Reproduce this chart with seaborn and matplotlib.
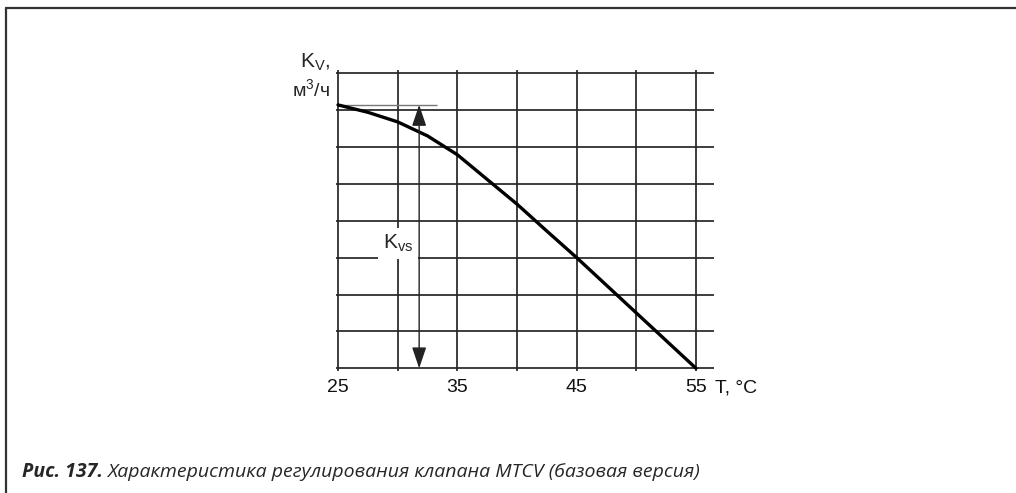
import matplotlib
matplotlib.use("Agg")
import matplotlib.pyplot as plt
import seaborn as sns
import pandas as pd
from matplotlib.lines import Line2D

# ---- data ----
temperature = [25, 27.5, 30, 32.5, 35, 37.5, 40, 42.5, 45, 47.5, 50, 52.5, 55]
kv = [7.14, 6.94, 6.68, 6.30, 5.79, 5.12, 4.45, 3.72, 3.0, 2.25, 1.5, 0.75, 0.0]
x_ticks = [25, 35, 45, 55]
x_grid = [25, 30, 35, 40, 45, 50, 55]
y_grid = [0, 1, 2, 3, 4, 5, 6, 7, 8]
kvs_value = kv[0]
kvs_arrow_t = 31.8
kvs_line_end = 33.3
kvs_label_pos = (28.75, 3.38)
x_label = "T, °C"
y_label_top = r"K$_{\mathregular{V}}$,"
y_label_bottom = r"м$^{\mathregular{3}}$/ч"
kvs_label = r"K$_{\mathregular{vs}}$"
caption_bold = "Рис. 137."
caption_text = "Характеристика регулирования клапана MTCV (базовая версия)"

sns.set_theme(style="white")
plt.rcParams["font.family"] = ["Liberation Sans", "DejaVu Sans"]
plt.rcParams["mathtext.fontset"] = "custom"
plt.rcParams["mathtext.rm"] = "Liberation Sans"

W, H = 1016, 493
fig = plt.figure(figsize=(W / 100, H / 100), dpi=100)
fig.patch.set_facecolor("white")

ax = fig.add_axes([0.32094, 0.23049, 0.38760, 0.64349])
ax.set_facecolor("white")
ax.set_xlim(24, 57)
ax.set_ylim(-0.3, 8.3)
for s in ax.spines.values():
    s.set_visible(False)

grid_color = "#262626"
ax.hlines(y_grid, 24.8, 56.5, color=grid_color, lw=1.25, zorder=1)
ax.vlines(x_grid, -0.08, 8.1, color=grid_color, lw=1.25, zorder=1)

df = pd.DataFrame({"T": temperature, "Kv": kv})
sns.lineplot(data=df, x="T", y="Kv", ax=ax, color="black", lw=2.4, zorder=4)

# Kvs reference line and double arrow
ax.hlines(kvs_value, temperature[0], kvs_line_end, color="#777777", lw=1.0, zorder=3)
ax.annotate("", xy=(kvs_arrow_t, kvs_value), xytext=(kvs_arrow_t, 0),
            arrowprops=dict(arrowstyle="<|-|>,head_length=0.65,head_width=0.22",
                            mutation_scale=20, lw=1.0, color="#222222",
                            shrinkA=0, shrinkB=0), zorder=5)
ax.text(kvs_label_pos[0], kvs_label_pos[1], kvs_label, fontsize=15, ha="left",
        va="center", zorder=3,
        bbox=dict(boxstyle="square,pad=0.22", fc="white", ec="none"))

ax.set_xticks(x_ticks)
ax.set_xticklabels([str(t) for t in x_ticks], fontsize=14)
ax.set_yticks([])
ax.tick_params(axis="x", length=0, pad=0, colors="#111111")
ax.set_xlabel("")
ax.set_ylabel("")
ax.text(56.6, -0.3, x_label, fontsize=14, ha="left", va="top", color="#111111")

fig.text(330 / W, 1 - 62 / H, y_label_top, fontsize=15, ha="right", va="center")
fig.text(330 / W, 1 - 90 / H, y_label_bottom, fontsize=14, ha="right", va="center")

# page frame
fig.add_artist(Line2D([6 / W, 1], [1 - 8 / H, 1 - 8 / H], transform=fig.transFigure,
                      color="#333333", lw=1.6))
fig.add_artist(Line2D([6 / W, 6 / W], [0, 1 - 8 / H], transform=fig.transFigure,
                      color="#333333", lw=1.6))

# caption
cap_y = 1 - 477 / H
t1 = fig.text(22 / W, cap_y, caption_bold, fontsize=14, fontfamily="Open Sans",
              fontstyle="italic", fontweight="bold", ha="left", va="baseline")
fig.canvas.draw()
bb = t1.get_window_extent(renderer=fig.canvas.get_renderer())
fig.text((bb.x1 + 4) / W, cap_y, caption_text, fontsize=14, fontfamily="Open Sans",
         fontstyle="italic", ha="left", va="baseline")

fig.savefig("out.png", dpi=100, facecolor="white")
